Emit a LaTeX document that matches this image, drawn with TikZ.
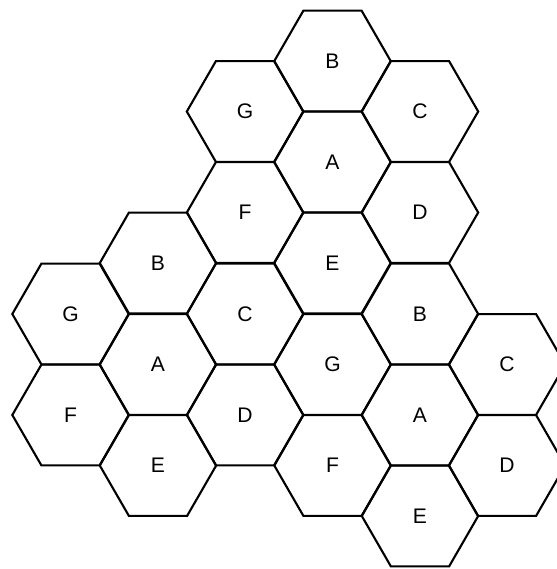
\documentclass[tikz,border=0pt]{standalone}
\usepackage{fontspec}
\setmainfont{Liberation Sans}
\usetikzlibrary{shapes.geometric}

\begin{document}
\begin{tikzpicture}[
    x=0.02cm, y=-0.02cm,
    cell/.style={regular polygon, regular polygon sides=6, draw, line width=1.2pt,
        minimum size=2.328cm, inner sep=0pt, font=\fontsize{12}{14}\selectfont}
]
\useasboundingbox (0,0) rectangle (557,569);

% Top cluster
\node[cell] (b30) at (332.5, 61) {B};
\node[cell] (g21) at (245, 111.5) {G};
\node[cell] (c41) at (420, 111.5) {C};
\node[cell] (a32) at (332.5, 162) {A};
\node[cell] (f23) at (245, 212.5) {F};
\node[cell] (d43) at (420, 212.5) {D};

% Middle
\node[cell] (b14) at (158, 263) {B};
\node[cell] (e34) at (332.5, 263) {E};
\node[cell] (g05) at (70.5, 314) {G};
\node[cell] (c25) at (245, 314) {C};
\node[cell] (b45) at (420, 314) {B};
\node[cell] (a16) at (158, 364.5) {A};
\node[cell] (g36) at (332.5, 364.5) {G};
\node[cell] (c56) at (507, 364.5) {C};

% Bottom
\node[cell] (f07) at (70.5, 415) {F};
\node[cell] (d27) at (245, 415) {D};
\node[cell] (a47) at (420, 415) {A};
\node[cell] (e18) at (158, 465.5) {E};
\node[cell] (f38) at (332.5, 465.5) {F};
\node[cell] (d58) at (507, 465.5) {D};
\node[cell] (e49) at (420, 516) {E};

\end{tikzpicture}
\end{document}
